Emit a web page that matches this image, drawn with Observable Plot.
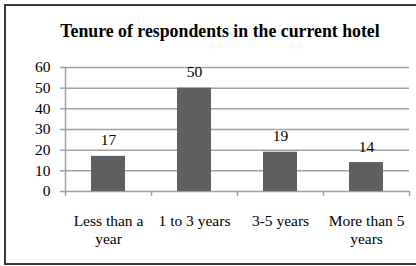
<!DOCTYPE html>
<html>
<head>
<meta charset="utf-8">
<script src="https://cdn.jsdelivr.net/npm/d3@7"></script>
<script src="https://cdn.jsdelivr.net/npm/@observablehq/plot@0.6"></script>
<style>
  html, body { margin: 0; padding: 0; background: #fff; }
  body { width: 416px; height: 266px; overflow: hidden; position: relative; font-family: "Liberation Serif", "Times New Roman", serif; }
  #frame { position: absolute; left: 4px; top: 4px; width: 420px; height: 257px; border: 2px solid #3a3a3a; box-sizing: content-box; }
  #title { position: absolute; left: 12px; width: 416px; top: 21px; text-align: center; font-weight: bold; font-size: 17.8px; color: #000; white-space: nowrap; }
  #chart { position: absolute; left: 0; top: 0; }
</style>
</head>
<body>
<div id="frame"></div>
<div id="title">Tenure of respondents in the current hotel</div>
<div id="chart"></div>
<script>
const categories = ["Less than a year", "1 to 3 years", "3-5 years", "More than 5 years"];
const tickLabels = ["Less than a\nyear", "1 to 3 years", "3-5 years", "More than 5\nyears"];
const values = [17, 50, 19, 14];
const yTicks = [0, 10, 20, 30, 40, 50, 60];

const data = categories.map((c, i) => ({category: c, value: values[i]}));
const labelOf = new Map(categories.map((c, i) => [c, tickLabels[i]]));

const width = 416, height = 266;
const marginLeft = 65, marginRight = 7;
const step = (width - marginLeft - marginRight) / categories.length;

const chart = Plot.plot({
  width, height,
  marginLeft, marginRight,
  marginTop: 67, marginBottom: 75,
  style: {fontFamily: "'Liberation Serif', 'Times New Roman', serif", fontSize: "15px", color: "#000", background: "transparent"},
  x: {domain: categories, paddingInner: 0.6, paddingOuter: 0.3, label: null},
  y: {domain: [0, 60], label: null},
  marks: [
    Plot.ruleY(yTicks, {stroke: "#a0a0a0", strokeWidth: 1.5}),
    Plot.ruleX([categories[0]], {x: d => d, y1: 0, y2: 60, dx: -step / 2, stroke: "#a0a0a0", strokeWidth: 1.5}),
    Plot.ruleX(categories, {x: d => d, y1: 0, y2: -2.4, dx: -step / 2, stroke: "#a0a0a0", strokeWidth: 1.5}),
    Plot.ruleX([categories[categories.length - 1]], {x: d => d, y1: 0, y2: -2.4, dx: step / 2, stroke: "#a0a0a0", strokeWidth: 1.5}),
    Plot.barY(data, {x: "category", y: "value", fill: "#5f5f5f"}),
    Plot.text(data, {x: "category", y: "value", text: d => String(d.value), dy: -16, fontSize: 15.5, fill: "#000"}),
    Plot.axisY({ticks: yTicks, tickSize: 5, tickPadding: 10, stroke: "#a0a0a0", strokeWidth: 1.5, fontSize: 15.5, label: null, fill: "#000"}),
    Plot.axisX({tickSize: 0, tickPadding: 22, tickFormat: d => labelOf.get(d), fontSize: 15.5, lineHeight: 1.15, label: null, fill: "#000"})
  ]
});
document.getElementById("chart").appendChild(chart);
</script>
</body>
</html>
